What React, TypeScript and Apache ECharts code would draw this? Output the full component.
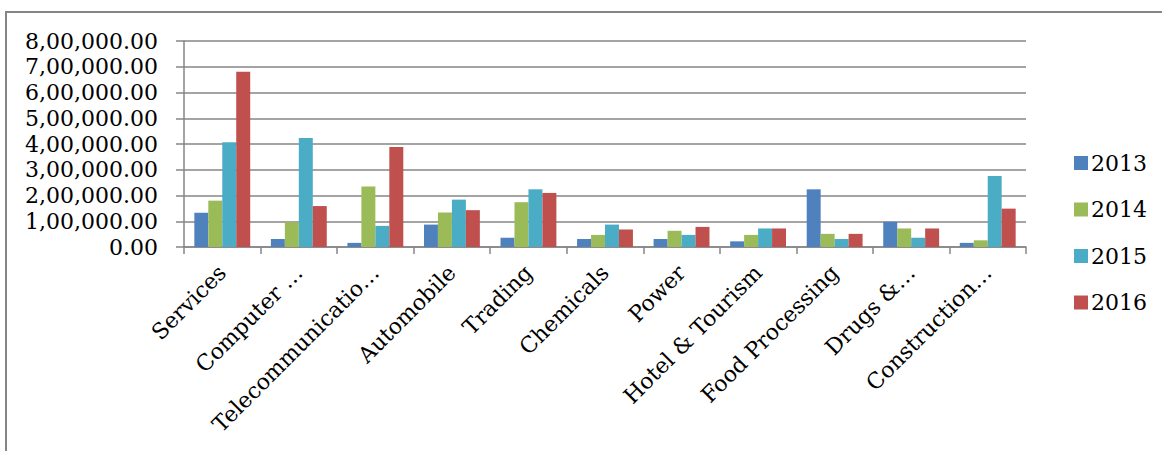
import React, { useEffect, useRef } from "react";
import * as echarts from "echarts";

const categories = [
  "Services",
  "Computer …",
  "Telecommunicatio…",
  "Automobile",
  "Trading",
  "Chemicals",
  "Power",
  "Hotel & Tourism",
  "Food Processing",
  "Drugs &…",
  "Construction…",
];

const years = ["2013", "2014", "2015", "2016"];

const values2013 = [133000, 31000, 16000, 87000, 36000, 31000, 31000, 22000, 224000, 98000, 16000];
const values2014 = [180000, 96000, 235000, 134000, 174000, 47000, 63000, 47000, 51000, 72000, 26000];
const values2015 = [407000, 423000, 82000, 184000, 224000, 87000, 47000, 72000, 31000, 36000, 276000];
const values2016 = [681000, 159000, 388000, 143000, 210000, 68000, 78000, 72000, 51000, 72000, 149000];

const seriesValues = [values2013, values2014, values2015, values2016];
const colors = ["#4F81BD", "#9BBB59", "#4BACC6", "#C0504D"];

const yMin = 0;
const yMax = 800000;
const yStep = 100000;

// Indian digit grouping: 8,00,000.00
function formatIndian(v: number): string {
  const s = Math.round(v).toString();
  let out = s;
  if (s.length > 3) {
    const last3 = s.slice(-3);
    let rest = s.slice(0, -3);
    const parts: string[] = [];
    while (rest.length > 2) {
      parts.unshift(rest.slice(-2));
      rest = rest.slice(0, -2);
    }
    if (rest.length) parts.unshift(rest);
    out = parts.join(",") + "," + last3;
  }
  return out + ".00";
}

const FONT = "'DejaVu Serif', serif";

export default function App() {
  const ref = useRef<HTMLDivElement>(null);

  useEffect(() => {
    if (!ref.current) return;
    const chart = echarts.init(ref.current, undefined, { renderer: "svg" });
    chart.setOption({
      animation: false,
      backgroundColor: "#ffffff",
      textStyle: { fontFamily: FONT },
      graphic: [
        {
          type: "rect",
          shape: { x: 6, y: 12, width: 1170, height: 460 },
          style: { fill: "none", stroke: "#858585", lineWidth: 2 },
          silent: true,
        },
      ],
      grid: { left: 184, right: 136, top: 41, bottom: 204, containLabel: false },
      legend: {
        orient: "vertical",
        left: 1069,
        top: 147,
        icon: "rect",
        itemWidth: 14,
        itemHeight: 14,
        itemGap: 24.5,
        textStyle: { fontFamily: FONT, fontSize: 22, color: "#000000", padding: [0, 0, 0, -2] },
        data: years,
      },
      xAxis: {
        type: "category",
        data: categories,
        axisLine: { lineStyle: { color: "#868686", width: 1.5 } },
        axisTick: { show: true, length: 7, lineStyle: { color: "#868686", width: 1.5 } },
        axisLabel: {
          interval: 0,
          rotate: 45,
          margin: 22,
          fontFamily: FONT,
          fontSize: 22,
          color: "#000000",
        },
      },
      yAxis: {
        type: "value",
        min: yMin,
        max: yMax,
        interval: yStep,
        axisLine: { show: true, lineStyle: { color: "#868686", width: 1.5 } },
        axisTick: { show: true, length: 8, lineStyle: { color: "#868686", width: 1.5 } },
        splitLine: { lineStyle: { color: "#868686", width: 1.5 } },
        axisLabel: {
          formatter: (v: number) => formatIndian(v),
          fontFamily: FONT,
          fontSize: 22,
          color: "#000000",
          margin: 26,
        },
      },
      series: years.map((y, i) => ({
        name: y,
        type: "bar",
        data: seriesValues[i],
        barGap: "0%",
        barCategoryGap: "27%",
        itemStyle: { color: colors[i] },
      })),
    });
    return () => chart.dispose();
  }, []);

  return (
    <div
      ref={ref}
      style={{ position: "fixed", left: 0, top: 0, width: 1162, height: 451 }}
    />
  );
}
